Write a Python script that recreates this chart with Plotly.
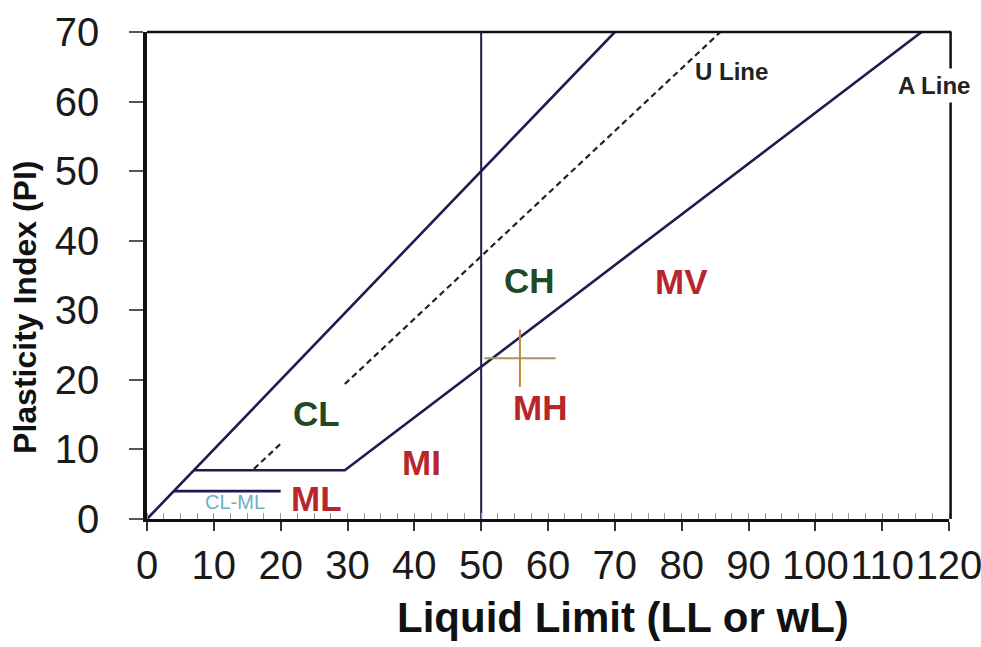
import plotly.graph_objects as go

# Plasticity chart: liquid limit (LL) vs plasticity index (PI)
x_ticks = [0, 10, 20, 30, 40, 50, 60, 70, 80, 90, 100, 110, 120]
y_ticks = [0, 10, 20, 30, 40, 50, 60, 70]

# Boundary lines (LL, PI)
upper_ll = [0, 70]
upper_pi = [0, 70]
a_line_ll = [7, 29.6, 115.9]
a_line_pi = [7, 7, 70]
clml_ll = [4, 20]
clml_pi = [4, 4]
u_low_ll = [16, 20.2]
u_low_pi = [7.2, 11.0]
u_high_ll = [29.6, 85.8]
u_high_pi = [19.4, 70]
ll50_ll = [50, 50]
ll50_pi = [0, 70]

# Test sample
sample_ll = [55.8]
sample_pi = [23.1]

# Zone labels
zone_names = ["CL", "CH", "ML", "MI", "MH", "MV"]
zone_ll = [25.3, 57.3, 25.4, 41.1, 58.8, 79.9]
zone_pi = [15.1, 34.3, 2.9, 8.1, 16.0, 34.1]
zone_colors = ["#1f4a24", "#1f4a24", "#b8262b", "#b8262b", "#b8262b", "#b8262b"]

NAVY = "#1c1c4e"
fig = go.Figure()

def add_line(xs, ys, color=NAVY, width=2.6, dash="solid"):
    fig.add_trace(go.Scatter(x=xs, y=ys, mode="lines", hoverinfo="skip",
                             line=dict(color=color, width=width, dash=dash),
                             showlegend=False))

add_line(upper_ll, upper_pi)
add_line(a_line_ll, a_line_pi)
add_line(clml_ll, clml_pi)
add_line(u_low_ll, u_low_pi, color="#222222", width=2.2, dash="6px,4px")
add_line(u_high_ll, u_high_pi, color="#222222", width=2.2, dash="6px,4px")
add_line(ll50_ll, ll50_pi, width=2)

# sample cross
fig.add_trace(go.Scatter(x=sample_ll, y=sample_pi, mode="markers", hoverinfo="skip",
                         marker=dict(symbol="line-ew", size=51,
                                     line=dict(color="#a89560", width=2)),
                         showlegend=False))
fig.add_trace(go.Scatter(x=sample_ll, y=sample_pi, mode="markers", hoverinfo="skip",
                         marker=dict(symbol="line-ns", size=41,
                                     line=dict(color="#c08a30", width=2)),
                         showlegend=False))

ann = []
for name, lx, py, c in zip(zone_names, zone_ll, zone_pi, zone_colors):
    ann.append(dict(x=lx, y=py, text=name, showarrow=False, xref="x", yref="y",
                    font=dict(family="Liberation Sans", size=35, color=c, weight=700)))
ann.append(dict(x=13.2, y=2.5, text="CL-ML", showarrow=False, xref="x", yref="y",
                font=dict(family="Liberation Sans", size=20, color="#6ab0c4")))
ann.append(dict(x=87.4, y=64.3, text="U Line", showarrow=False, xref="x", yref="y",
                font=dict(family="Liberation Sans", size=24, color="#222222", weight=700)))
ann.append(dict(x=117.8, y=62.3, text="A Line", showarrow=False, xref="x", yref="y",
                bgcolor="white", borderpad=3,
                font=dict(family="Liberation Sans", size=24, color="#222222", weight=700)))
ann.append(dict(x=0.594, y=-0.203, xref="paper", yref="paper", showarrow=False,
                text="Liquid Limit (LL or wL)", yanchor="middle", xanchor="center",
                font=dict(family="Liberation Sans", size=42, color="#111111", weight=700)))
ann.append(dict(x=-0.153, y=0.434, xref="paper", yref="paper", showarrow=False,
                text="Plasticity Index (PI)", textangle=-90, yanchor="middle", xanchor="center",
                font=dict(family="Liberation Sans", size=32, color="#111111", weight=700)))

fig.update_layout(
    width=981, height=647,
    margin=dict(l=147, r=32, t=32, b=128),
    paper_bgcolor="white", plot_bgcolor="white",
    annotations=ann,
    shapes=[
        dict(type="line", xref="paper", yref="paper", x0=0, x1=1.003, y0=1, y1=1,
             line=dict(color="#111111", width=2.5)),
        dict(type="line", xref="paper", yref="paper", x0=1.002, x1=1.002, y0=0, y1=1,
             line=dict(color="#111111", width=2.5)),
    ],
    xaxis=dict(range=[0, 120], tickvals=x_ticks, ticktext=[str(v) for v in x_ticks],
               showgrid=False, zeroline=False, showline=True, linecolor="#111111",
               linewidth=3, ticks="outside", ticklen=9, tickwidth=1.5, tickcolor="#333",
               tickangle=0, ticklabelstandoff=0, automargin=False,
               ticklabeloverflow="allow",
               minor=dict(ticks="inside", dtick=2.5, ticklen=6, tickcolor="#999", tickwidth=1),
               tickfont=dict(family="Liberation Sans Narrow, Liberation Sans", size=40,
                             color="#1a1a1a")),
    yaxis=dict(range=[0, 70], tickvals=y_ticks, ticktext=[str(v) for v in y_ticks],
               showgrid=False, zeroline=False, showline=True, linecolor="#111111",
               linewidth=3.5, ticks="outside", ticklen=14, tickwidth=1.5, tickcolor="#555",
               ticklabelstandoff=22, automargin=False,
               tickfont=dict(family="Liberation Sans", size=40, color="#1a1a1a")),
)

fig.write_html("out.html")
